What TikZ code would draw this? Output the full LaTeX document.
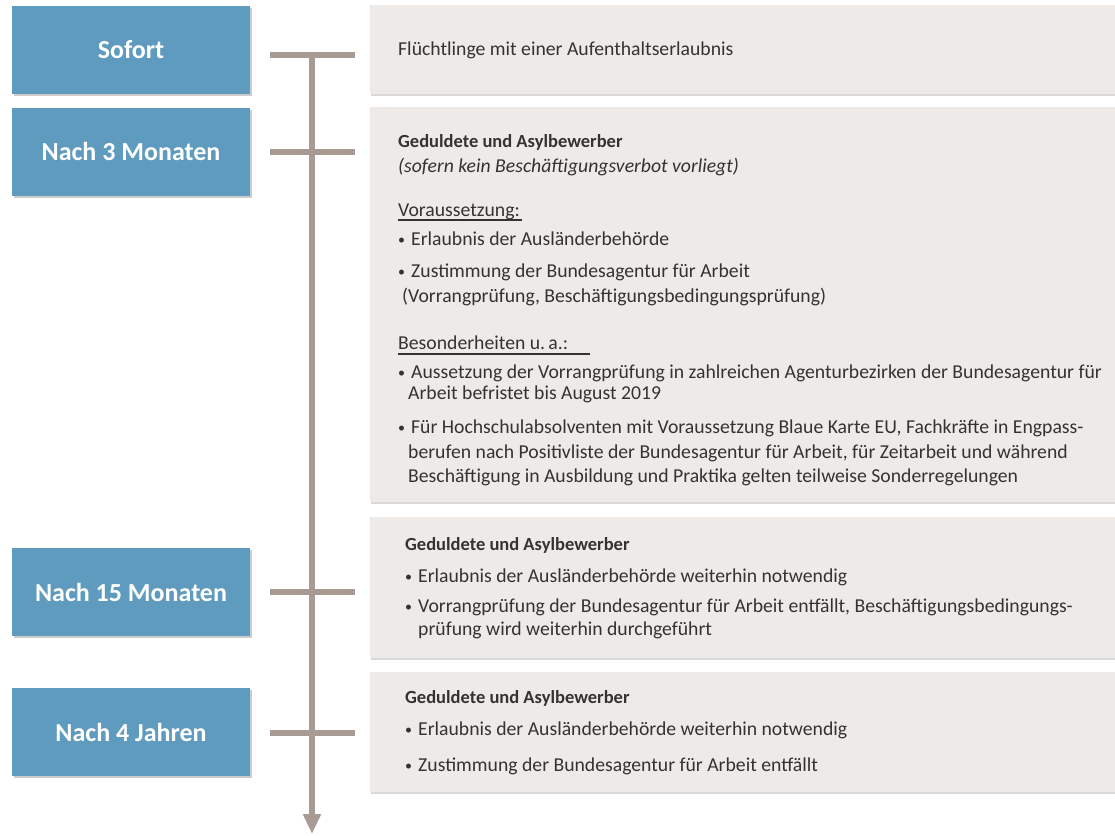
\documentclass[tikz,border=0pt]{standalone}
\usepackage{fontspec}
\setmainfont{Carlito}
\usetikzlibrary{arrows.meta,shadows}
\definecolor{tblue}{HTML}{5F9BBE}
\definecolor{tline}{HTML}{A89B94}
\definecolor{tgrey}{HTML}{EDEAE8}
\definecolor{ttext}{HTML}{333333}
\newcommand{\bul}{\makebox[13pt][l]{\raisebox{1pt}{\fontsize{14}{14}\selectfont•}}}
\tikzset{
  bluebox/.style={fill=tblue, text=white, font=\fontsize{26}{30}\selectfont\bfseries,
    minimum width=238pt, minimum height=88pt, inner sep=0pt,
    drop shadow={shadow xshift=2pt, shadow yshift=-2pt, opacity=0.4}},
  greybox/.style={fill=tgrey, inner sep=0pt,
    drop shadow={shadow xshift=1pt, shadow yshift=-2pt, opacity=0.3}},
  txt/.style={anchor=base west, inner sep=0pt, text=ttext, font=\fontsize{19.7}{23}\selectfont},
  hd/.style={txt, font=\fontsize{18.5}{22}\selectfont\bfseries},
  tick/.style={draw=tline, line width=6pt},
  axis/.style={draw=tline, line width=6pt, -{Triangle[width=17pt,length=20pt]}},
  uline/.style={draw=ttext, line width=1.1pt},
}
\begin{document}
\begin{tikzpicture}[x=1pt,y=-1pt]
\useasboundingbox (0,0) rectangle (1115,835);
% grey boxes
\node[greybox, minimum width=745pt, minimum height=89pt] (g1) at (742.5,49.5) {};
\node[greybox, minimum width=745pt, minimum height=395pt] (g2) at (742.5,304.5) {};
\node[greybox, minimum width=745pt, minimum height=141pt] (g3) at (742.5,587.5) {};
\node[greybox, minimum width=745pt, minimum height=120pt] (g4) at (742.5,732) {};
% blue boxes
\node[bluebox] (b1) at (131,50) {Sofort};
\node[bluebox] (b2) at (131,151.5) {Nach 3 Monaten};
\node[bluebox] (b3) at (131,592) {Nach 15 Monaten};
\node[bluebox] (b4) at (131,732) {Nach 4 Jahren};
% axis
\coordinate (top) at (312,52);
\coordinate (bot) at (312,834);
\coordinate (t1l) at (270,55); \coordinate (t1r) at (355,55);
\coordinate (t2l) at (270,152); \coordinate (t2r) at (355,152);
\coordinate (t3l) at (270,592); \coordinate (t3r) at (355,592);
\coordinate (t4l) at (270,733); \coordinate (t4r) at (355,733);
\draw[axis] (top) -- (bot);
\draw[tick] (t1l) -- (t1r);
\draw[tick] (t2l) -- (t2r);
\draw[tick] (t3l) -- (t3r);
\draw[tick] (t4l) -- (t4r);
% box 1 text
\node[txt] (a1) at (398,55) {Flüchtlinge mit einer Aufenthaltserlaubnis};
% box 2 text
\node[hd] (a2) at (398,147) {Geduldete und Asylbewerber};
\node[txt, font=\fontsize{19.7}{23}\selectfont\itshape] (a3) at (398,172) {(sofern kein Beschäftigungsverbot vorliegt)};
\node[txt] (a4) at (398,216) {Voraussetzung:};
\coordinate (u1l) at (398,220); \coordinate (u1r) at (522,220);
\draw[uline] (u1l) -- (u1r);
\node[txt] (a5) at (398,245) {\bul Erlaubnis der Ausländerbehörde};
\node[txt] (a6) at (398,277) {\bul Zustimmung der Bundesagentur für Arbeit};
\node[txt] (a7) at (402,302) {(Vorrangprüfung, Beschäftigungsbedingungsprüfung)};
\node[txt] (a8) at (398,349) {Besonderheiten u.\,a.:};
\coordinate (u2l) at (398,354); \coordinate (u2r) at (590,354);
\draw[uline] (u2l) -- (u2r);
\node[txt] (a9) at (398,378) {\bul Aussetzung der Vorrangprüfung in zahlreichen Agenturbezirken der Bundesagentur für};
\node[txt] (a10) at (408,399) {Arbeit befristet bis August 2019};
\node[txt] (a11) at (398,433) {\bul Für Hochschulabsolventen mit Voraussetzung Blaue Karte EU, Fachkräfte in Engpass-};
\node[txt] (a12) at (408,458) {berufen nach Positivliste der Bundesagentur für Arbeit, für Zeitarbeit und während};
\node[txt] (a13) at (408,482) {Beschäftigung in Ausbildung und Praktika gelten teilweise Sonderregelungen};
% box 3 text
\node[hd] (c1) at (405,550) {Geduldete und Asylbewerber};
\node[txt] (c2) at (405,582) {\bul Erlaubnis der Ausländerbehörde weiterhin notwendig};
\node[txt] (c3) at (405,612) {\bul Vorrangprüfung der Bundesagentur für Arbeit entfällt, Beschäftigungsbedingungs-};
\node[txt] (c4) at (418,635) {prüfung wird weiterhin durchgeführt};
% box 4 text
\node[hd] (d1) at (405,703) {Geduldete und Asylbewerber};
\node[txt] (d2) at (405,735) {\bul Erlaubnis der Ausländerbehörde weiterhin notwendig};
\node[txt] (d3) at (405,771) {\bul Zustimmung der Bundesagentur für Arbeit entfällt};
\end{tikzpicture}
\end{document}
